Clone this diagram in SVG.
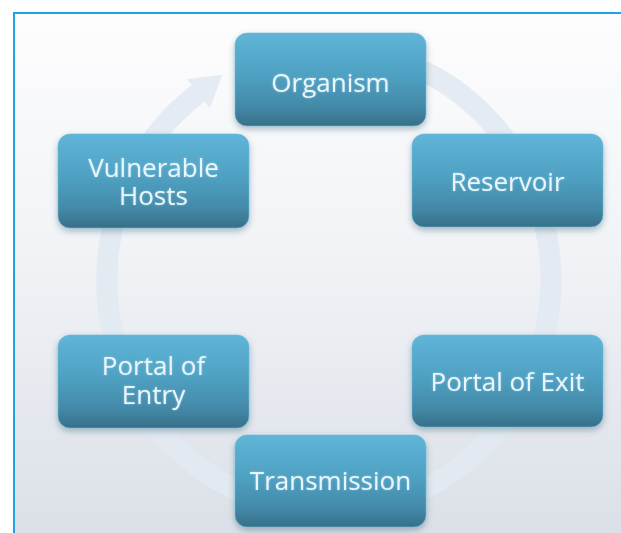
<svg xmlns="http://www.w3.org/2000/svg" width="621" height="533" viewBox="0 0 621 533">
  <defs>
    <linearGradient id="bg" x1="0" y1="0" x2="0" y2="1">
      <stop offset="0" stop-color="#fdfdfe"/>
      <stop offset="0.45" stop-color="#f1f3f6"/>
      <stop offset="1" stop-color="#dbe0e8"/>
    </linearGradient>
    <linearGradient id="box" x1="0" y1="0" x2="0" y2="1">
      <stop offset="0" stop-color="#5fb5d8"/>
      <stop offset="0.45" stop-color="#4fa1c3"/>
      <stop offset="0.8" stop-color="#4389a7"/>
      <stop offset="1" stop-color="#376f88"/>
    </linearGradient>
    <filter id="sh" x="-10%" y="-10%" width="120%" height="130%">
      <feDropShadow dx="0" dy="3" stdDeviation="3" flood-color="#1d4a5e" flood-opacity="0.35"/>
    </filter>
    <filter id="glow" x="-10%" y="-30%" width="120%" height="160%">
      <feGaussianBlur in="SourceAlpha" stdDeviation="1.2" result="b"/>
      <feFlood flood-color="#bfe6f5" flood-opacity="0.5"/>
      <feComposite in2="b" operator="in" result="g"/>
      <feMerge><feMergeNode in="g"/><feMergeNode in="SourceGraphic"/></feMerge>
    </filter>
  </defs>
  <style>
    .node rect { fill: url(#box); stroke: #6bbbd9; stroke-opacity: 0.6; stroke-width: 1; filter: url(#sh); }
    .node text { font-family: "Open Sans", "Noto Sans", "DejaVu Sans", sans-serif; font-size: 26px; fill: #eaf6fb; text-anchor: middle; filter: url(#glow); }
    .ring { fill: none; stroke: #e2e9f1; stroke-width: 21; stroke-opacity: 0.9; }
    .head { fill: #e2e9f1; fill-opacity: 0.9; }
  </style>

  <rect x="0" y="0" width="621" height="533" fill="#ffffff"/>
  <rect x="15" y="14" width="606" height="519" fill="url(#bg)"/>
  <line x1="14" y1="13" x2="621" y2="13" stroke="#1ea3e6" stroke-width="2"/>
  <line x1="14" y1="12" x2="14" y2="533" stroke="#1ea3e6" stroke-width="2"/>

  <g id="connectors">
    <path class="ring" d="M 422.8 70.7 A 222 231 0 1 1 198.5 93.1"/>
    <polygon class="head" points="222,75 210,108 187,79"/>
  </g>

  <g id="organism" class="node">
    <rect x="235" y="33" width="191" height="93" rx="12" ry="12"/>
    <text x="330.5" y="92">Organism</text>
  </g>
  <g id="reservoir" class="node">
    <rect x="412" y="134" width="191" height="93" rx="12" ry="12"/>
    <text x="507.5" y="191">Reservoir</text>
  </g>
  <g id="portal-exit" class="node">
    <rect x="412" y="335" width="191" height="92" rx="12" ry="12"/>
    <text x="507.5" y="391">Portal of Exit</text>
  </g>
  <g id="transmission" class="node">
    <rect x="235" y="435" width="191" height="92" rx="12" ry="12"/>
    <text x="330.5" y="490">Transmission</text>
  </g>
  <g id="portal-entry" class="node">
    <rect x="58" y="335" width="191" height="93" rx="12" ry="12"/>
    <text x="153.5" y="375">Portal of</text>
    <text x="153.5" y="404">Entry</text>
  </g>
  <g id="vulnerable-hosts" class="node">
    <rect x="58" y="134" width="191" height="94" rx="12" ry="12"/>
    <text x="153.5" y="177">Vulnerable</text>
    <text x="153.5" y="205">Hosts</text>
  </g>
</svg>
